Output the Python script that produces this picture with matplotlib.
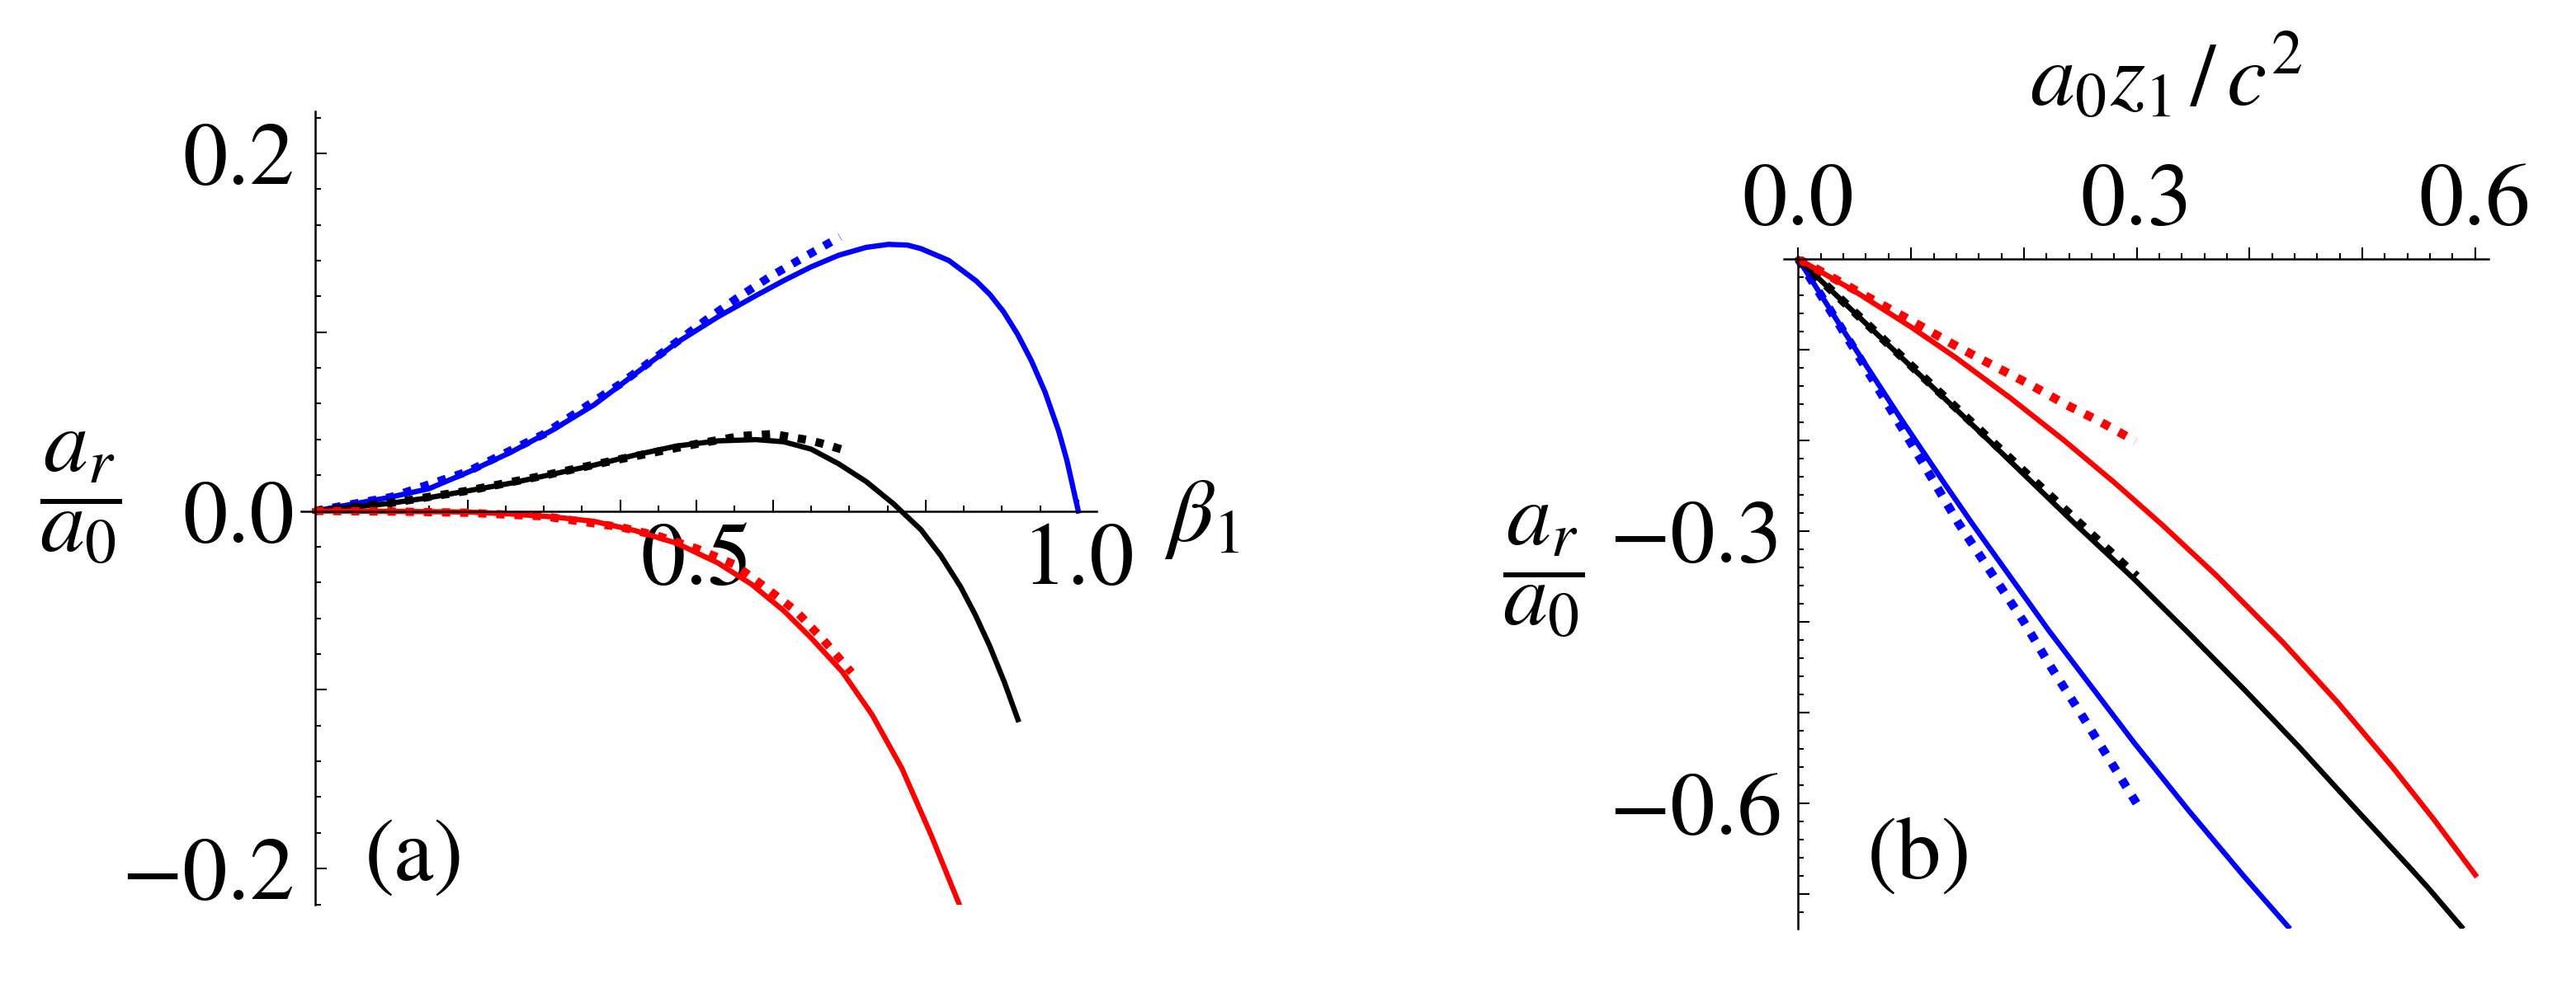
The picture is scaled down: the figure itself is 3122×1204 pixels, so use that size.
import matplotlib.pyplot as plt
import numpy as np

plt.rcParams['font.family'] = 'STIXGeneral'
plt.rcParams['mathtext.fontset'] = 'stix'

# ---- panel (a): a_r/a_0 vs beta_1 ----
a_blue_x = [0, 0.0952, 0.149, 0.2034, 0.2574, 0.3115, 0.3655, 0.4196, 0.4736, 0.5277,
            0.578, 0.614, 0.650, 0.686, 0.722, 0.751, 0.7763, 0.794, 0.8304, 0.848, 0.8664,
            0.8844, 0.902, 0.9204, 0.9385, 0.9565, 0.9745, 0.9853, 1.0]
a_blue_y = [0, 0.0074, 0.0124, 0.0222, 0.0330, 0.0453, 0.0593, 0.0767, 0.0940, 0.1085,
            0.1205, 0.1288, 0.1365, 0.1430, 0.1474, 0.1491, 0.1487, 0.1467, 0.1401, 0.1345, 0.1286,
            0.1210, 0.1115, 0.0989, 0.0841, 0.0665, 0.0445, 0.0280, 0.0]
a_blue_dot_x = [0, 0.1, 0.2, 0.3, 0.4, 0.5133, 0.5529, 0.5961, 0.643, 0.688]
a_blue_dot_y = [0, 0.0078, 0.0220, 0.0430, 0.0710, 0.1071, 0.1190, 0.1310, 0.1425, 0.1533]

a_black_x = [0, 0.0952, 0.149, 0.2034, 0.2574, 0.3115, 0.3655, 0.4196, 0.4736, 0.5277,
             0.578, 0.614, 0.650, 0.686, 0.722, 0.758, 0.794, 0.82, 0.846, 0.865, 0.884, 0.903, 0.921]
a_black_y = [0, 0.0041, 0.0074, 0.0115, 0.0156, 0.0206, 0.0256, 0.0313, 0.0363, 0.0392,
             0.0399, 0.0387, 0.0346, 0.0264, 0.0165, 0.0040, -0.0105, -0.0250, -0.0425, -0.0580,
             -0.0755, -0.0955, -0.1167]
a_black_dot_x = [0, 0.1, 0.2, 0.3, 0.4, 0.5, 0.56, 0.6, 0.647, 0.670, 0.7006]
a_black_dot_y = [0, 0.0045, 0.0113, 0.0198, 0.0290, 0.0375, 0.0420, 0.0430, 0.0396, 0.0371, 0.0330]

a_red_x = [0, 0.1, 0.2034, 0.2574, 0.3115, 0.3655, 0.4196, 0.4736, 0.5277, 0.572, 0.614,
           0.650, 0.691, 0.730, 0.769, 0.807, 0.846]
a_red_y = [0, -0.0002, -0.0006, -0.0017, -0.0033, -0.0058, -0.0110, -0.0180, -0.0290, -0.0410,
           -0.0557, -0.0710, -0.0900, -0.1140, -0.1440, -0.1810, -0.2220]
a_red_dot_x = [0, 0.1, 0.2, 0.3, 0.4, 0.45, 0.5, 0.55, 0.587, 0.6296, 0.6663, 0.703]
a_red_dot_y = [0, -0.0003, -0.001, -0.003, -0.009, -0.014, -0.021, -0.030, -0.0417, -0.0557, -0.0722, -0.0903]

# ---- panel (b): a_r/a_0 vs a_0 z_1 / c^2 ----
b_blue_x = [0, 0.04, 0.09, 0.1296, 0.155, 0.222, 0.2978, 0.3466, 0.3954, 0.4344]
b_blue_y = [0, -0.0789, -0.1743, -0.2474, -0.2931, -0.4093, -0.5332, -0.6086, -0.6807, -0.7360]
b_blue_dot_x = [0, 0.05, 0.1, 0.1417, 0.2, 0.2247, 0.25, 0.3]
b_blue_dot_y = [0, -0.100, -0.203, -0.2906, -0.400, -0.451, -0.500, -0.600]

b_black_x = [0, 0.0917, 0.1686, 0.2443, 0.2980, 0.3466, 0.3954, 0.4174, 0.4442, 0.4905, 0.5417, 0.5588, 0.5881]
b_black_y = [0, -0.1088, -0.1997, -0.2906, -0.3530, -0.4130, -0.4745, -0.5030, -0.5380, -0.6010, -0.6700, -0.6935, -0.7361]
b_black_dot_x = [0, 0.1, 0.2, 0.3]
b_black_dot_y = [0, -0.1175, -0.2340, -0.3497]

b_red_x = [0, 0.05, 0.1, 0.1394, 0.1881, 0.2345, 0.2800, 0.3222, 0.3707, 0.4292, 0.4783, 0.5271, 0.5637, 0.6003]
b_red_y = [0, -0.0355, -0.0750, -0.1085, -0.1533, -0.1988, -0.2461, -0.2925, -0.3488, -0.4219, -0.4887, -0.5604, -0.6179, -0.6787]
b_red_dot_x = [0, 0.05, 0.1, 0.141, 0.1735, 0.2052, 0.237, 0.2674, 0.299]
b_red_dot_y = [0, -0.034, -0.068, -0.0967, -0.1179, -0.1382, -0.1603, -0.1791, -0.2009]

a_xticks = [0.2, 0.4, 0.5, 0.6, 0.8, 1.0]
a_xlabels = ['', '', '0.5', '', '', '1.0']
a_yticks = [-0.2, -0.1, 0.0, 0.1, 0.2]
a_ylabels = ['\u22120.2', '', '0.0', '', '0.2']
b_xticks = [0.0, 0.1, 0.2, 0.3, 0.4, 0.5, 0.6]
b_xlabels = ['0.0', '', '', '0.3', '', '', '0.6']
b_yticks = [-0.7, -0.6, -0.5, -0.4, -0.3, -0.2, -0.1]
b_ylabels = ['', '\u22120.6', '', '', '\u22120.3', '', '']

W, H = 3122, 1204
fig = plt.figure(figsize=(W / 200, H / 200), dpi=200)

FS = 39
LW = 2.3
DOT = (0, (1, 1.2))


def px(x0, y0, x1, y1):
    # pixel box -> figure fraction rect
    return [x0 / W, 1 - y1 / H, (x1 - x0) / W, (y1 - y0) / H]


def style_axes(ax):
    for s in ax.spines.values():
        s.set_linewidth(0.9)
    ax.tick_params(which='both', width=0.75, labelsize=FS)
    ax.tick_params(which='major', length=4.9)
    ax.tick_params(which='minor', length=2.5)


# panel (a)
ax1 = fig.add_axes(px(365, 135, 1329, 1096.5))
ax1.plot(a_blue_x, a_blue_y, color='blue', lw=LW)
ax1.plot(a_blue_dot_x, a_blue_dot_y, color='blue', lw=3.6, linestyle=DOT)
ax1.plot(a_black_x, a_black_y, color='black', lw=LW)
ax1.plot(a_black_dot_x, a_black_dot_y, color='black', lw=3.6, linestyle=DOT)
ax1.plot(a_red_x, a_red_y, color='red', lw=LW)
ax1.plot(a_red_dot_x, a_red_dot_y, color='red', lw=3.6, linestyle=DOT)
ax1.set_xlim(-0.018, 1.024)
ax1.set_ylim(-0.220, 0.2235)
ax1.spines['left'].set_position('zero')
ax1.spines['bottom'].set_position('zero')
ax1.spines['top'].set_visible(False)
ax1.spines['right'].set_visible(False)
ax1.set_xticks(a_xticks)
ax1.set_xticklabels(a_xlabels)
ax1.set_xticks(np.arange(0.05, 1.01, 0.05), minor=True)
ax1.set_yticks(a_yticks)
ax1.set_yticklabels(a_ylabels)
ax1.set_yticks(np.arange(-0.22, 0.221, 0.02), minor=True)
style_axes(ax1)
ax1.tick_params(axis='x', which='both', direction='in', pad=5)
ax1.tick_params(axis='y', which='both', direction='in', pad=9)
ax1.patch.set_visible(False)

# panel (b)
ax2 = fig.add_axes(px(2162.4, 310.7, 3016, 1126))
ax2.plot(b_blue_x, b_blue_y, color='blue', lw=LW)
ax2.plot(b_blue_dot_x, b_blue_dot_y, color='blue', lw=3.8, linestyle=DOT)
ax2.plot(b_black_x, b_black_y, color='black', lw=LW)
ax2.plot(b_black_dot_x, b_black_dot_y, color='black', lw=3.8, linestyle=DOT)
ax2.plot(b_red_x, b_red_y, color='red', lw=LW)
ax2.plot(b_red_dot_x, b_red_dot_y, color='red', lw=3.8, linestyle=DOT)
ax2.set_xlim(-0.0125, 0.612)
ax2.set_ylim(-0.738, 0.003)
ax2.xaxis.tick_top()
ax2.spines['top'].set_position('zero')
ax2.spines['left'].set_position('zero')
ax2.spines['bottom'].set_visible(False)
ax2.spines['right'].set_visible(False)
ax2.set_xticks(b_xticks)
ax2.set_xticklabels(b_xlabels)
ax2.set_xticks(np.arange(0.02, 0.601, 0.02), minor=True)
ax2.set_yticks(b_yticks)
ax2.set_yticklabels(b_ylabels)
ax2.set_yticks(np.arange(-0.72, -0.01, 0.02), minor=True)
style_axes(ax2)
ax2.tick_params(axis='x', which='both', direction='out', pad=1.5)
ax2.tick_params(axis='y', which='both', direction='in', pad=7)
ax2.patch.set_visible(False)

# labels
fig.text(97.5 / W, 1 - 603 / H, r'$\dfrac{a_r}{a_0}$', ha='center', va='center', fontsize=FS)
fig.text(1457 / W, 1 - 630 / H, r'$\beta_1$', ha='center', va='center', fontsize=FS)
fig.text(442 / W, 1 - 1042 / H, '(a)', ha='left', va='center', fontsize=FS)
fig.text(2625 / W, 1 - 97 / H, r'$a_0 z_1\,/\,c^2$', ha='center', va='center', fontsize=FS)
fig.text(1871 / W, 1 - 692 / H, r'$\dfrac{a_r}{a_0}$', ha='center', va='center', fontsize=FS)
fig.text(2263 / W, 1 - 1040 / H, '(b)', ha='left', va='center', fontsize=FS)

fig.savefig('out.png', dpi=200, facecolor='white')
